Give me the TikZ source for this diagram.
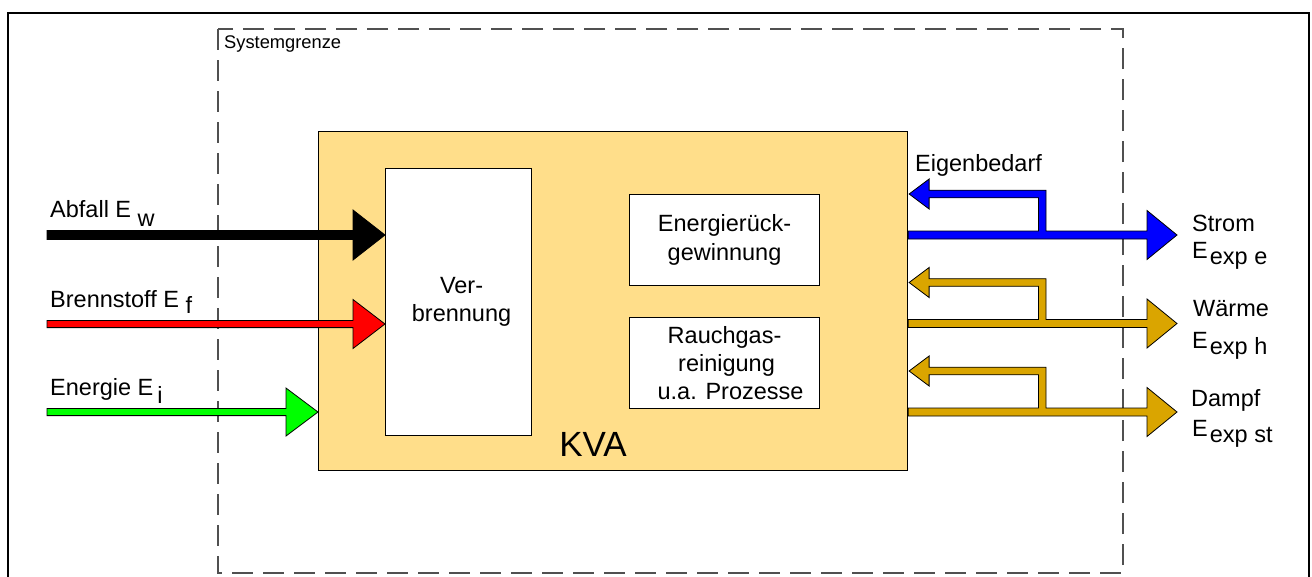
\documentclass[tikz,border=0pt]{standalone}
\usepackage{fontspec}
\setmainfont{Liberation Sans}
\usetikzlibrary{calc}
\definecolor{kvafill}{RGB}{255,222,138}
\definecolor{goldflow}{RGB}{218,165,0}
\definecolor{limeflow}{RGB}{0,255,0}
\definecolor{bordergray}{RGB}{80,80,80}
\newcommand\inflow[5]{% colour, from, to, shaft half, head half
  \draw[flow,fill=#1] ($(#2)+(0,-#4)$) -- ($(#3)+(-32,-#4)$) -- ($(#3)+(-32,-#5)$) -- (#3)
    -- ($(#3)+(-32,#5)$) -- ($(#3)+(-32,#4)$) -- ($(#2)+(0,#4)$) -- cycle;}
\newcommand\outflow[3]{% colour, start on KVA, tip
  \draw[flow,fill=#1]
    ($(#2)+(0,-4)$) -- ($(#3)+(-138.5,-4)$) -- ($(#3)+(-138.5,-37.2)$) -- ($(#2)+(21,-37.2)$)
    -- ($(#2)+(21,-26)$) -- ($(#2)+(1,-41)$) -- ($(#2)+(21,-56)$) -- ($(#2)+(21,-44.8)$)
    -- ($(#3)+(-131,-44.8)$) -- ($(#3)+(-131,-4)$) -- ($(#3)+(-30,-4)$) -- ($(#3)+(-30,-24.5)$)
    -- (#3) -- ($(#3)+(-30,24.5)$) -- ($(#3)+(-30,4)$) -- ($(#2)+(0,4)$) -- cycle;}
\begin{document}
\begin{tikzpicture}[x=1pt,y=-1pt,
  txt/.style={font=\fontsize{23.5}{28}\selectfont, inner sep=0pt},
  box/.style={draw=black, line width=1.1pt, inner sep=0pt, align=center, font=\fontsize{23.5}{28.3}\selectfont},
  flow/.style={draw=black, line width=0.8pt, line join=miter},
]
\useasboundingbox (0,0) rectangle (1312,576);
\clip (0,0) rectangle (1312,576);
\fill[white] (0,0) rectangle (1312,576);
% outer frame
\draw[line width=1.6pt] (8,13) rectangle (1309,620);
% system boundary
\draw[bordergray, line width=1.6pt, dash pattern=on 21pt off 10pt] (218,29) rectangle (1123,573);
\node[anchor=base west, inner sep=0pt, font=\fontsize{18.3}{20}\selectfont] (sg) at (224,48.5) {Systemgrenze};
% main boxes
\node[box, fill=kvafill, minimum width=589pt, minimum height=339pt, anchor=north west] (kva) at (318,131) {};
\node[anchor=base, inner sep=0pt, font=\fontsize{35}{40}\selectfont] (kvat) at (593,456.7) {KVA};
\node[box, fill=white, minimum width=146pt, minimum height=267pt, anchor=north west] (verb) at (385,168) {\hspace*{6pt}Ver-\\\hspace*{6pt}brennung};
\node[box, fill=white, minimum width=190pt, minimum height=91pt, anchor=north west] (erg) at (629,194) {Energierück-\\gewinnung};
\node[box, fill=white, minimum width=190pt, minimum height=91pt, anchor=north west] (rgr) at (629,317) {Rauchgas-\\\hspace*{4pt}reinigung\\\hspace*{12pt}u.a. Prozesse};
% input flows
\coordinate (inA) at (47,235);
\coordinate (inB) at (47,324);
\coordinate (inC) at (47,412);
\coordinate (tipA) at (verb.west |- inA);
\coordinate (tipB) at (verb.west |- inB);
\coordinate (tipC) at (kva.west |- inC);
\inflow{black}{inA}{tipA}{4.5}{25}
\inflow{red}{inB}{tipB}{3.6}{24.5}
\inflow{limeflow}{inC}{tipC}{3.6}{24}
\node[txt, anchor=base west] (lA) at (50,217) {Abfall E \raisebox{-9pt}{w}};
\node[txt, anchor=base west] (lB) at (50,307) {Brennstoff E \raisebox{-6pt}{f}};
\node[txt, anchor=base west] (lC) at (50,395) {Energie E\,\raisebox{-8pt}{i}};
% output flows
\coordinate (outE) at (1177,235);
\coordinate (outH) at (1177,323.5);
\coordinate (outS) at (1177,412);
\coordinate (kE) at (kva.east |- outE);
\coordinate (kH) at (kva.east |- outH);
\coordinate (kS) at (kva.east |- outS);
\outflow{blue}{kE}{outE}
\outflow{goldflow}{kH}{outH}
\outflow{goldflow}{kS}{outS}
\node[txt, anchor=base west] (eig) at (915,171.7) {Eigenbedarf};
\node[txt, anchor=base west] (lE1) at (1192,231.7) {Strom};
\node[txt, anchor=base west] (lE2) at (1192,258) {E\hspace{2pt}\raisebox{-6pt}{exp e}};
\node[txt, anchor=base west] (lH1) at (1193,316.7) {Wärme};
\node[txt, anchor=base west] (lH2) at (1192,348) {E\hspace{2pt}\raisebox{-6pt}{exp h}};
\node[txt, anchor=base west] (lS1) at (1191,406.7) {Dampf};
\node[txt, anchor=base west] (lS2) at (1192,436.7) {E\hspace{2pt}\raisebox{-6pt}{exp st}};
\end{tikzpicture}
\end{document}
